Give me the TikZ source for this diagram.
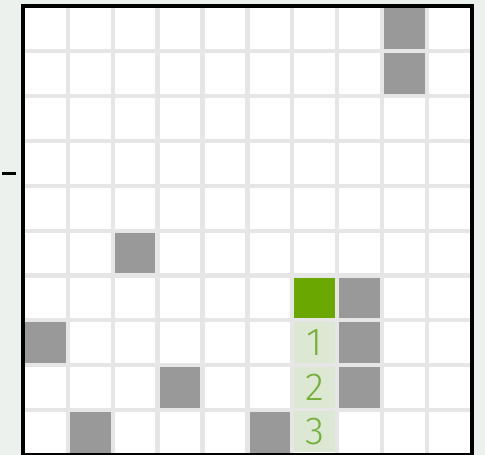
\documentclass[tikz,border=0pt]{standalone}
\usepackage{fontspec}
\newfontfamily\numfont{Fira Sans Light}
\definecolor{pagebg}{HTML}{EDF1EE}
\definecolor{gapgray}{HTML}{E6E6E6}
\definecolor{wallgray}{HTML}{999999}
\definecolor{startgreen}{HTML}{6AA800}
\definecolor{pathgreen}{HTML}{DCE8D4}
\definecolor{numgreen}{HTML}{76B03A}
\tikzset{
  cell/.style={rectangle,minimum width=40.6pt,minimum height=40.8pt,inner sep=0pt,outer sep=0pt,fill=white},
  wall/.style={cell,fill=wallgray},
  start/.style={cell,fill=startgreen},
  pathcell/.style={cell,fill=pathgreen,text=numgreen,font=\numfont\fontsize{39}{39}\selectfont},
}
\begin{document}
\begin{tikzpicture}[x=1pt,y=-1pt]
	\useasboundingbox (0,0) rectangle (485,455);
	\fill[pagebg] (0,0) rectangle (485,455);
	\fill[gapgray] (22,6) rectangle (472,456);
	\foreach \i in {0,...,9}
	  \foreach \j in {0,...,9}
	    \node[cell] (c-\i-\j) at ({45.3+44.9*\i},{28.5+44.9*\j}) {};
	\foreach \i/\j in {8/0,8/1,2/5,7/6,0/7,7/7,3/8,7/8,1/9,5/9}
	  \node[wall] (w-\i-\j) at (c-\i-\j) {};
	\node[start] (s) at (c-6-6) {};
	\node[pathcell] (p1) at (c-6-7) {1};
	\node[pathcell] (p2) at (c-6-8) {2};
	\node[pathcell] (p3) at ([yshift=1pt]c-6-9) {3};
	\draw[line width=4pt] (22.5,6) rectangle (471.7,455);
	\coordinate (d1) at (2,173.5);
	\coordinate (d2) at (16,173.5);
	\draw[line width=3pt] (d1) -- (d2);
\end{tikzpicture}
\end{document}
